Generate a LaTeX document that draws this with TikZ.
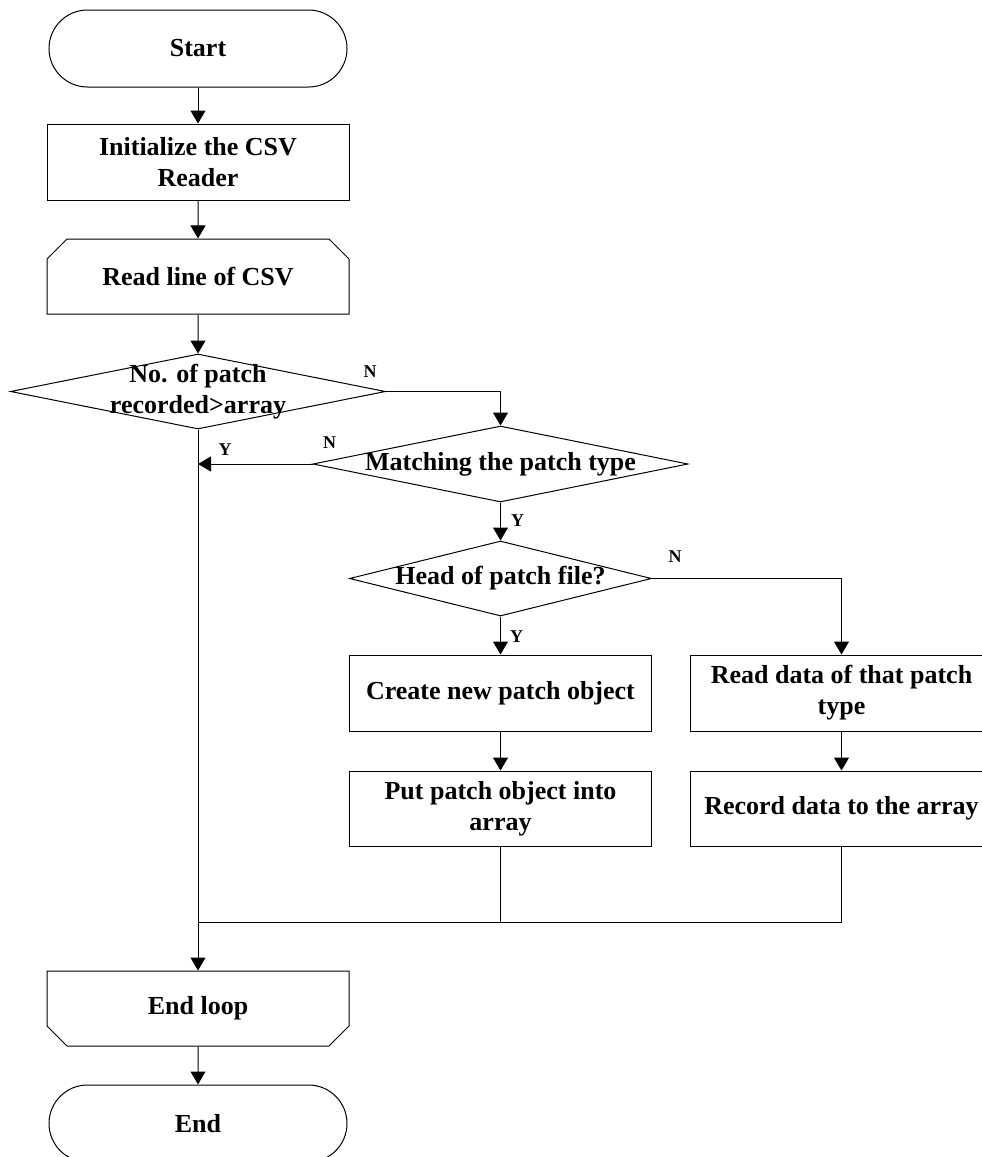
\documentclass[tikz,border=0pt]{standalone}
\usepackage{fontspec}
\setmainfont{Liberation Serif}
\usetikzlibrary{positioning,arrows.meta,shapes.geometric,shapes.misc}

\begin{document}
\begin{tikzpicture}[
  x=1pt,y=1pt,
  node distance=38pt and 38pt,
  every node/.style={font=\fontsize{26}{31}\selectfont\bfseries},
  base/.style={draw,line width=1pt,align=center,minimum width=302pt,
               minimum height=76pt,inner sep=2pt},
  term/.style={base,rounded rectangle,minimum height=77pt},
  proc/.style={base,rectangle},
  loopbeg/.style={base,chamfered rectangle,
                  chamfered rectangle corners={north west,north east},
                  chamfered rectangle xsep=10pt,chamfered rectangle ysep=10pt},
  loopend/.style={base,chamfered rectangle,
                  chamfered rectangle corners={south west,south east},
                  chamfered rectangle xsep=10pt,chamfered rectangle ysep=10pt},
  dec/.style={draw,line width=1pt,diamond,minimum width=375pt,
              minimum height=75pt,inner sep=0pt},
  yn/.style={font=\fontsize{18}{20}\selectfont\bfseries,inner sep=0pt},
  arr/.style={line width=1pt,-{Triangle[length=13pt,width=15pt]}},
  ln/.style={line width=1pt},
]
\useasboundingbox (0,0) rectangle (982,-1157);

% main column
\node[term] (start) at (198,-48.5) {Start};
\node[proc,below=36pt of start] (init) {Initialize the CSV\\Reader};
\node[loopbeg,below=of init,minimum height=75pt] (rdcsv) {Read line of CSV};
\node[dec,below=39pt of rdcsv,
      label={[align=center]center:{No. of patch\\recorded>array}}] (chk) {};

% right branches
\node[dec,minimum height=76pt,label={center:Matching the patch type}] (match) at (500.5,-464) {};
\node[dec,below=of match,minimum width=302pt,label={center:Head of patch file?}] (head) {};
\node[proc,below=of head] (create) {Create new patch object};
\node[proc,below=39pt of create,minimum height=75pt] (put) {Put patch object into\\array};
\node[proc,right=of create] (rdata) {Read data of that patch\\type};
\node[proc,below=39pt of rdata,minimum height=75pt] (rec) {Record data to the array};

% end
\node[loopend,minimum height=75pt] (endl) at (198,-1008.5) {End loop};
\node[term,below=of endl] (stop) {End};

% yes / no labels
\node[yn] (n1) at ([shift={(-16,20)}]chk.east) {N};
\node[yn] (y1) at ([shift={(27,-20)}]chk.south) {Y};
\node[yn] (n2) at ([shift={(17,21)}]match.west) {N};
\node[yn] (y2) at ([shift={(17,-18)}]match.south) {Y};
\node[yn] (n3) at ([shift={(23,22)}]head.east) {N};
\node[yn] (y3) at ([shift={(16,-20)}]head.south) {Y};

\coordinate (jn) at ([yshift=-76pt]put.south);

\draw[arr] (start) -- (init);
\draw[arr] (init) -- (rdcsv);
\draw[arr] (rdcsv) -- (chk);
\draw[arr] (chk.east) -| (match.north);
\draw[arr] (match.west) -- (match.west -| chk.south);
\draw[arr] (chk.south) -- (endl.north);
\draw[arr] (match) -- (head);
\draw[arr] (head) -- (create);
\draw[arr] (head.east) -| (rdata.north);
\draw[arr] (create) -- (put);
\draw[arr] (rdata) -- (rec);
\draw[ln] (put.south) -- (jn) -- (jn -| chk.south);
\draw[ln] (rec.south) |- (jn);
\draw[arr] (endl) -- (stop);
\end{tikzpicture}
\end{document}
